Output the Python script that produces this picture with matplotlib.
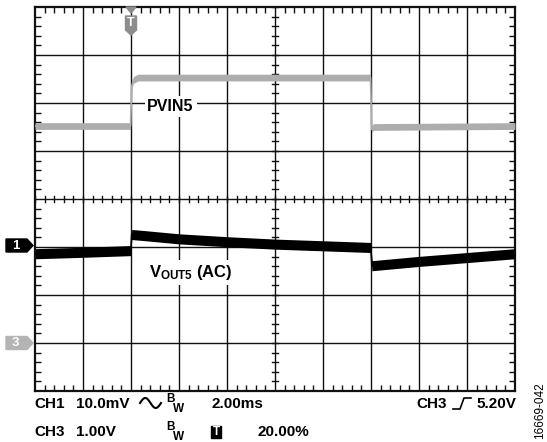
import matplotlib
matplotlib.use('Agg')
import matplotlib.pyplot as plt
import numpy as np
from matplotlib.patches import Polygon, Rectangle
from matplotlib.lines import Line2D
from matplotlib.ticker import MultipleLocator

# ---------------- data ----------------
# time in ms (2 ms/div, trigger at 20 %)
t_pvin = [-4.0, -0.02, 0.03, 0.10, 0.30, 9.98, 10.03, 10.10, 16.0]
v_pvin = [4.52, 4.52, 5.35, 5.48, 5.53, 5.53, 4.45, 4.50, 4.52]      # CH3, volts

t_vout = [-4.0, -2.0, -0.01, 0.03, 0.5, 2.0, 4.0, 6.0, 8.0, 9.99, 10.04, 12.0, 14.0, 16.0]
v_vout = [-1.8, -1.5, -1.15, 2.2, 2.0, 1.3, 0.7, 0.2, -0.15, -0.5, -4.3, -3.4, -2.6, -1.8]  # CH1, mV (AC)

ch1_scale, ch1_offset = 10.0, -0.96   # mV/div, ground position (div)
ch3_scale, ch3_offset = 1.0, -3.0     # V/div, ground position (div)
time_per_div = 2.0
ch1_band = 1.05    # mV half-width of trace noise band
ch3_band = 0.07    # V half-width

row1 = ["CH1", "10.0mV", "2.00ms", "CH3", "5.20V"]
row2 = ["CH3", "1.00V", "20.00%"]

# ---------------- figure ----------------
W, H = 547, 442
plt.rcParams['font.family'] = ['Liberation Sans', 'DejaVu Sans']
plt.rcParams['font.weight'] = 'bold'
plt.rcParams['mathtext.fontset'] = 'custom'
plt.rcParams['mathtext.rm'] = 'Liberation Sans:bold'
plt.rcParams['mathtext.it'] = 'Liberation Sans:bold'
plt.rcParams['mathtext.bf'] = 'Liberation Sans:bold'

fig = plt.figure(figsize=(W / 100, H / 100), dpi=100)
L, T, R, B = 35, 7, 515, 391
ax = fig.add_axes([L / W, 1 - B / H, (R - L) / W, (B - T) / H])

x0, x1 = -2 * time_per_div, 8 * time_per_div
ax.set_xlim(x0, x1)
ax.set_ylim(-4, 4)

def P(x, y):
    return (x / W, 1 - y / H)

# grid
for i in range(1, 10):
    ax.axvline(x0 + i * time_per_div, color='#111111', lw=1.0, zorder=1)
for j in range(-3, 4):
    ax.axhline(j, color='#111111', lw=1.0, zorder=1)

# center-line ticks
xc = (x0 + x1) / 2
for tx in np.arange(x0, x1 + 1e-9, time_per_div / 5):
    ax.plot([tx, tx], [-0.06, 0.06], color='#111111', lw=1.0, zorder=1)
for ty in np.arange(-4, 4 + 1e-9, 0.2):
    ax.plot([xc - 0.12, xc + 0.12], [ty, ty], color='#111111', lw=1.0, zorder=1)

# border ticks
ax.xaxis.set_major_locator(MultipleLocator(time_per_div))
ax.yaxis.set_major_locator(MultipleLocator(1))
ax.xaxis.set_minor_locator(MultipleLocator(time_per_div / 5))
ax.yaxis.set_minor_locator(MultipleLocator(0.2))
ax.tick_params(which='major', length=0, labelbottom=False, labelleft=False)
ax.tick_params(which='minor', direction='in', length=4, width=1.0,
               top=True, right=True, bottom=True, left=True, color='#111111')
for s in ax.spines.values():
    s.set_linewidth(1.6)
    s.set_color('#111111')

# traces
tp = np.array(t_pvin)
yp = (np.array(v_pvin) / ch3_scale) + ch3_offset
bp = ch3_band / ch3_scale
ax.fill_between(tp, yp - bp, yp + bp, color='#adadad', lw=0, zorder=3)
ax.plot(tp, yp, color='#adadad', lw=1.2, zorder=3)

tv = np.array(t_vout)
yv = (np.array(v_vout) / ch1_scale) + ch1_offset
bv = ch1_band / ch1_scale
ax.fill_between(tv, yv - bv, yv + bv, color='black', lw=0, zorder=4)
ax.plot(tv, yv, color='black', lw=1.2, zorder=4)

# labels inside plot
ax.text(0.68, 1.93, 'PVIN5', fontsize=11.5,
        fontweight='bold', ha='left', va='center', zorder=5,
        bbox=dict(facecolor='white', edgecolor='none', pad=2))
ax.text(0.75, -1.53, r'$V_{OUT5}$ (AC)', fontsize=12, fontweight='bold',
        ha='left', va='center', zorder=5,
        bbox=dict(facecolor='white', edgecolor='none', pad=2))

# trigger marker
trig_x = L + 2 * 48
fig.patches.append(Polygon([P(trig_x - 5, 7), P(trig_x + 5, 7), P(trig_x, 13)],
                           closed=True, transform=fig.transFigure, color='#8c8c8c', zorder=6))
fig.patches.append(Polygon([P(trig_x - 5.5, 16), P(trig_x + 5.5, 16), P(trig_x + 5.5, 30),
                            P(trig_x, 35), P(trig_x - 5.5, 30)],
                           closed=True, transform=fig.transFigure, color='#8c8c8c', zorder=6))
fig.text(*P(trig_x, 23.5), 'T', color='white', fontsize=9, ha='center', va='center', zorder=7)

# channel markers
def ch_marker(yc, label, color):
    fig.patches.append(Polygon([P(6, yc - 6.5), P(27, yc - 6.5), P(33, yc), P(27, yc + 6.5), P(6, yc + 6.5)],
                               closed=True, transform=fig.transFigure, color=color))
    fig.text(*P(15.5, yc + 0.5), label, color='white', fontsize=9.5, ha='center', va='center')

ch_marker(245.5, '1', 'black')
ch_marker(343, '3', '#b4b4b4')

# bottom annotation
fs = 11
y1, y2 = 404, 432
fig.text(*P(34, y1), row1[0], fontsize=fs, ha='left', va='center')
fig.text(*P(76, y1), row1[1], fontsize=fs, ha='left', va='center')
sx = np.linspace(0, 1, 40)
fig.add_artist(Line2D((140 + 21 * sx) / W, 1 - (y1 - 1 - 5 * np.sin(2 * np.pi * sx)) / H,
                      color='black', lw=1.5))
fig.text(*P(166, y1 - 5), 'B', fontsize=8.5, ha='left', va='center')
fig.text(*P(173, y1 + 5), 'W', fontsize=8.5, ha='left', va='center')
fig.text(*P(212, y1), row1[2], fontsize=fs, ha='left', va='center')
fig.text(*P(416, y1), row1[3], fontsize=fs, ha='left', va='center')
ex = np.array([453, 460, 464, 471])
ey = np.array([y1 + 5, y1 + 5, y1 - 6, y1 - 6])
fig.add_artist(Line2D(ex / W, 1 - ey / H, color='black', lw=1.2))
fig.text(*P(476, y1), row1[4], fontsize=fs, ha='left', va='center')

fig.text(*P(34, y2), row2[0], fontsize=fs, ha='left', va='center')
fig.text(*P(76, y2), row2[1], fontsize=fs, ha='left', va='center')
fig.text(*P(166, y2 - 5), 'B', fontsize=8.5, ha='left', va='center')
fig.text(*P(173, y2 + 5), 'W', fontsize=8.5, ha='left', va='center')
fig.patches.append(Rectangle(P(211, y2 + 6), 10 / W, 12 / H, transform=fig.transFigure, color='black'))
fig.text(*P(216, y2), 'T', color='white', fontsize=8.5, ha='center', va='center')
fig.text(*P(258, y2), row2[2], fontsize=fs, ha='left', va='center')

fig.text(*P(540, 411), '16669-042', fontsize=8.5, fontweight='normal', rotation=90,
         ha='center', va='center')

fig.savefig('out.png', dpi=100)
